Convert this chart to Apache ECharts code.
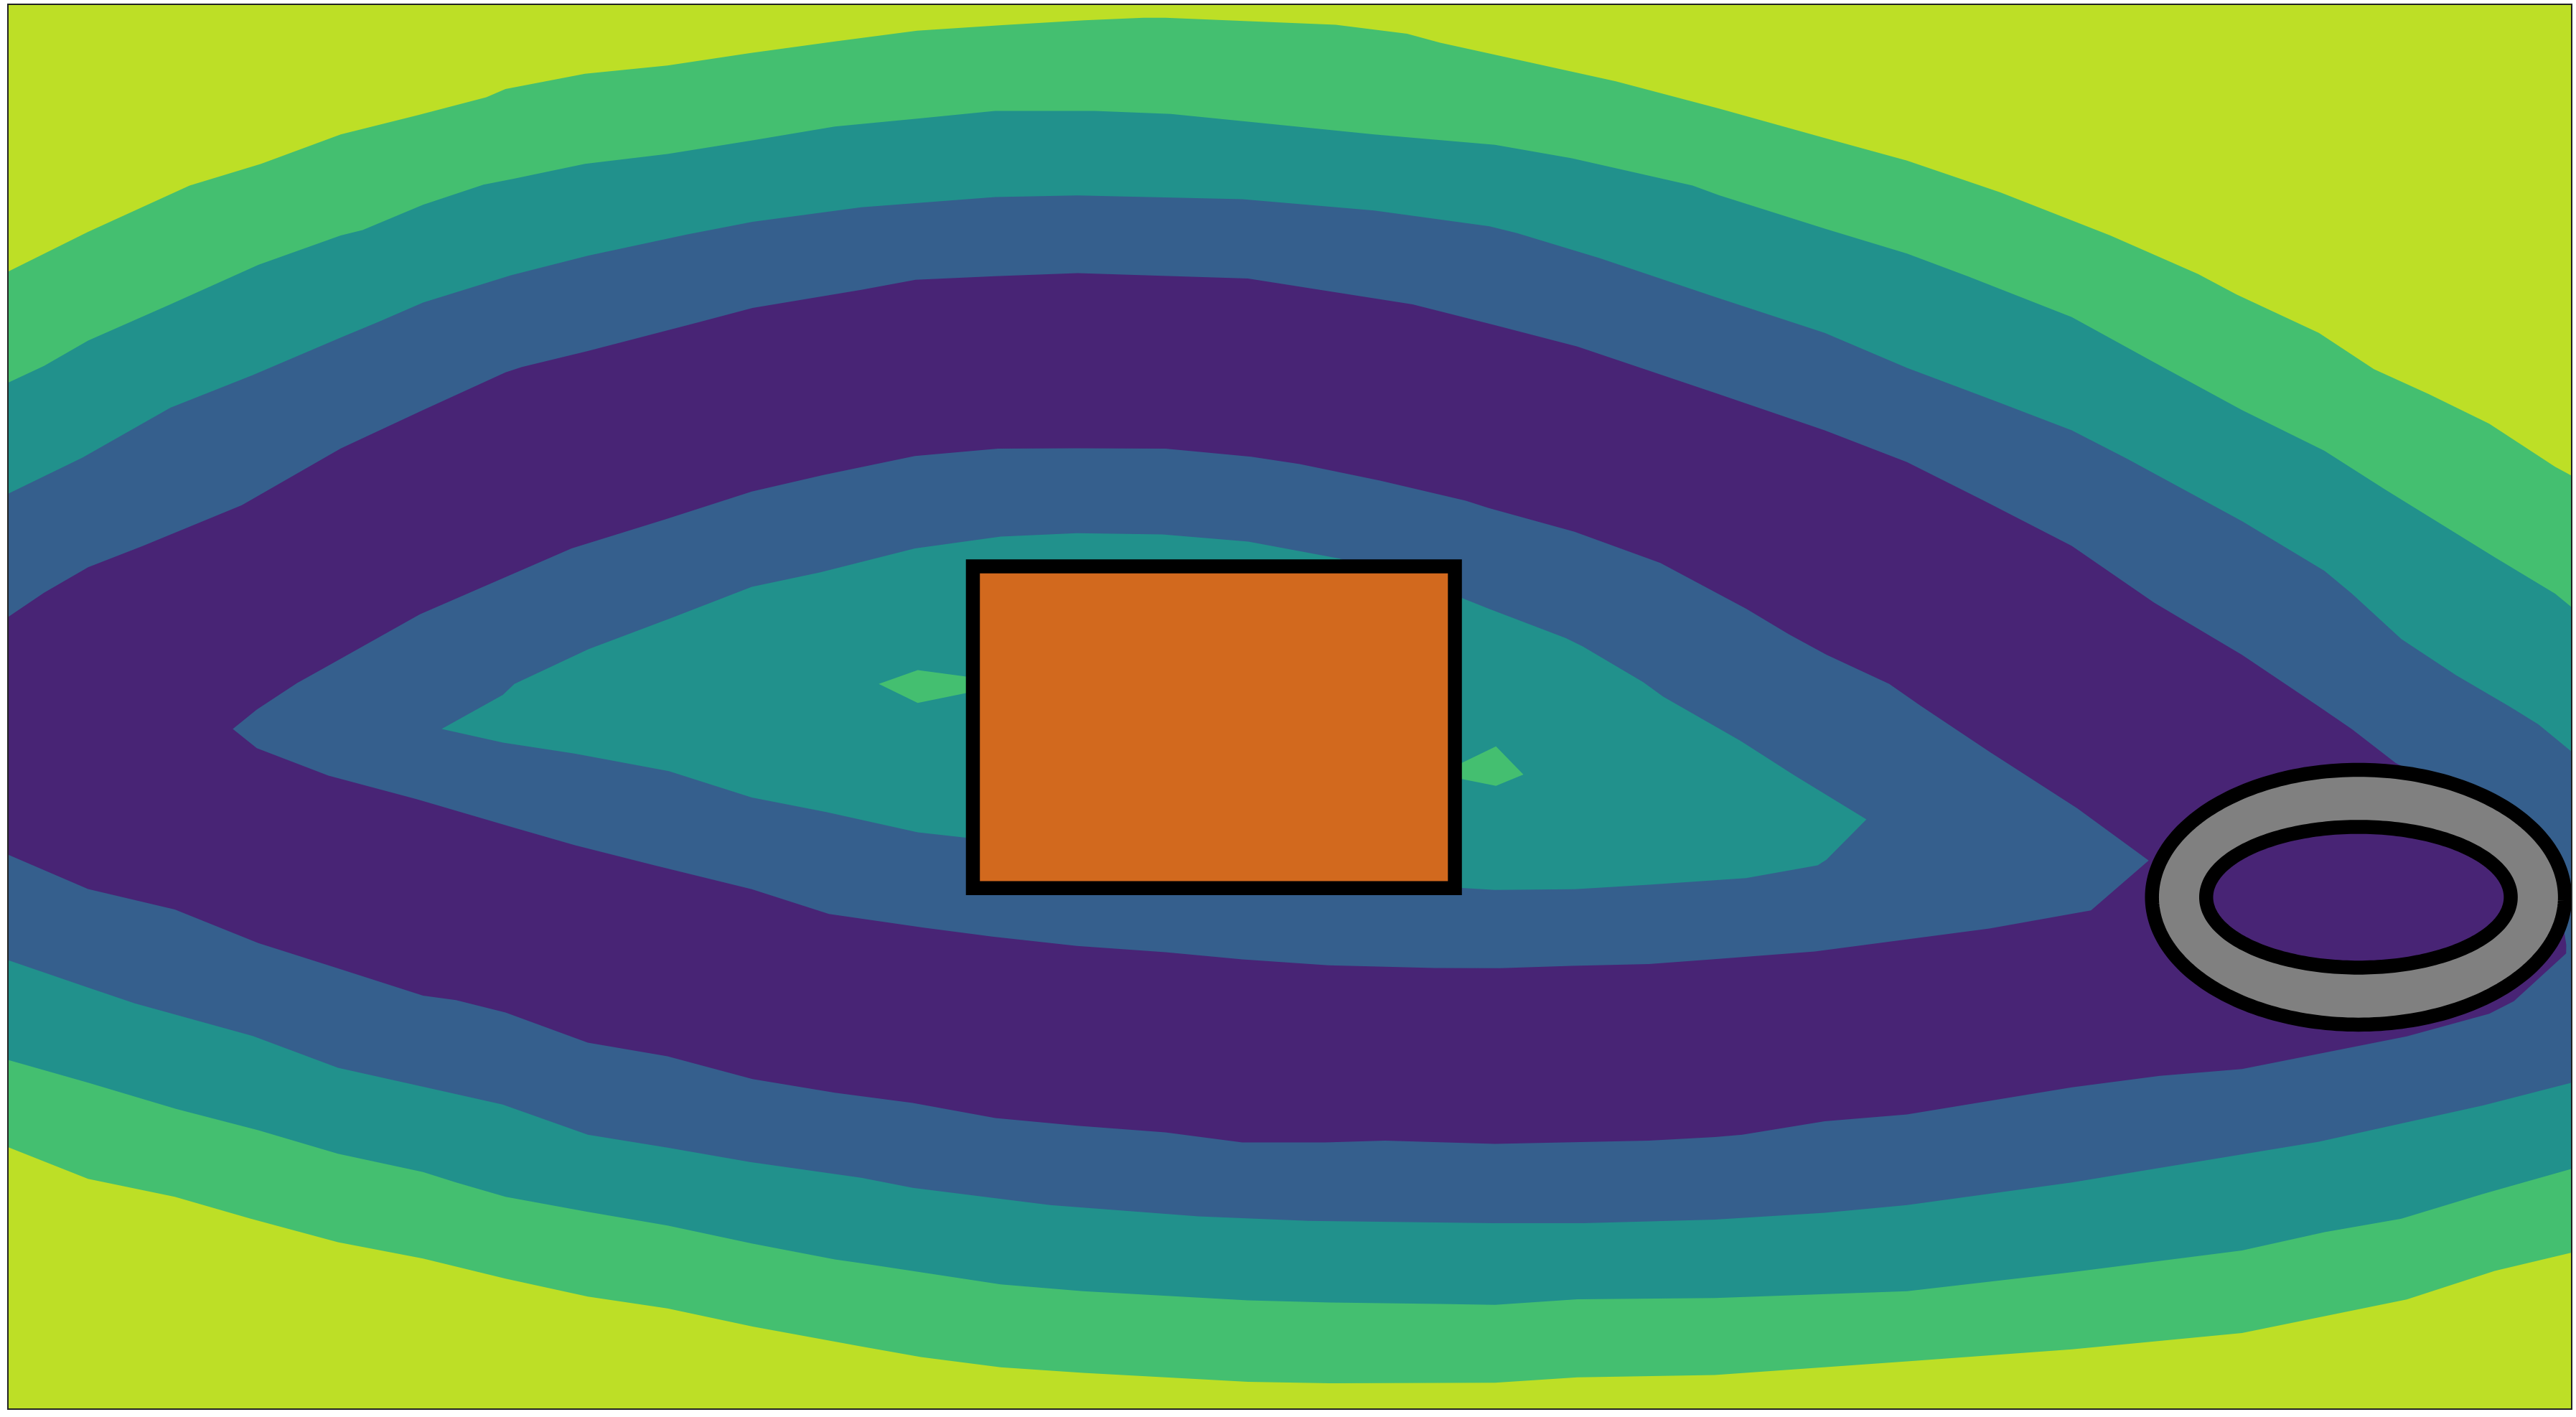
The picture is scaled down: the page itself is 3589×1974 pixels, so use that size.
<!DOCTYPE html>
<html>
<head>
<meta charset="utf-8">
<script src="https://cdn.jsdelivr.net/npm/echarts@6/dist/echarts.min.js"></script>
<style>
html,body{margin:0;padding:0;background:#ffffff;}
#chart{width:3589px;height:1974px;}
</style>
</head>
<body>
<div id="chart"></div>
<script>
// ---- axis extents (data units) ----
const xExtent = [4.7, 1565.3];
const yExtent = [2.8, 857.4];

// ---- band colours (viridis levels) ----
const colorYellow = '#bddf26';
const colorGreen  = '#44bf70';
const colorTeal   = '#21918c';
const colorBlue   = '#355f8d';
const colorPurple = '#482475';

// ---- contour boundaries (x, y) ----
const yellowGreenTop = [[4.7,165.5],[53.5,141.2],[115.3,113.1],[158.8,99.8],[207.3,81.9],[254.1,70.3],[295.9,59.3],[307.6,54.3],[356,45],[406.2,40],[456.3,32.5],[508.1,25.4],[558.2,18.8],[610,15.5],[660,12.5],[695.9,11],[709.3,11],[812.9,15.2],[856.4,20.7],[876.5,26.2],[923.3,36.4],[983.4,49.6],[1046.3,66.2],[1110.6,84.1],[1160.7,97.9],[1217.5,117.2],[1284.4,143.4],[1337.9,166.9],[1361.3,179.3],[1411.4,202.7],[1444.9,224.8],[1478.3,239.9],[1515.1,257.9],[1555.2,284.1],[1565.3,289.6]];
const yellowGreenBottom = [[4.7,698],[53.5,717.3],[106.3,728.3],[152.1,741.5],[205.6,755.9],[257.4,765.8],[307.6,778],[357.7,789],[406.2,796.2],[458,807.2],[524.2,819.3],[560.5,825.7],[609,832],[659.2,835.3],[759.5,840.8],[809.6,841.7],[909.9,841.4],[960,838.1],[1043.7,836.7],[1160.7,828.4],[1261,821],[1364.6,811.1],[1464.9,790.7],[1518.4,773.3],[1565.3,762.2]];

const greenTealTop = [[4.7,233],[26.7,222.8],[53.5,207.4],[103.6,185.3],[157.1,161.3],[207.3,143.4],[220.6,140.1],[257.4,124.7],[294.2,112.5],[312.6,108.9],[356,99.8],[406.2,93.8],[458,85.5],[508.1,77.2],[557.2,72.5],[605.7,67.6],[665.9,67.6],[712.6,69.5],[762.8,74.5],[836.3,81.9],[909.9,88.3],[956.7,96.5],[1030.2,113.1],[1046.3,119],[1110.6,139.3],[1160.7,154.4],[1197.5,168.2],[1261,193.1],[1311.1,220.6],[1364.6,249.6],[1414.8,274.4],[1451.6,297.9],[1518.4,339.2],[1555.2,361.3],[1565.3,369.6]];
const greenTealBottom = [[4.7,645],[53.5,658.8],[107,674.8],[157.1,687.8],[205.6,702.1],[257.4,713.2],[277.5,719.5],[307.6,728.3],[357.7,737.4],[406.2,745.7],[458,756.7],[508.1,766.4],[524.2,768.6],[609,781.5],[659.2,785.7],[759.5,791.2],[809.6,792.6],[876.5,793.4],[909.9,794],[960,790.6],[1043.7,789.8],[1160.7,785.7],[1261,774.1],[1364.6,760.9],[1414.8,749.8],[1461.6,741.6],[1511.7,726.4],[1565.3,711.2]];

const tealBlueTop = [[4.7,300.6],[50.1,278.6],[103.6,248.2],[153.8,228.4],[207.3,205.5],[230.7,195.8],[257.4,184.2],[310.9,167.7],[357.7,155.8],[417.9,142.9],[458,135.1],[524.2,126.3],[605.7,120],[655.8,119.1],[756.1,121.4],[836.3,128.2],[906.5,137.9],[923.3,142],[973.4,157.2],[1043.6,180.7],[1110.6,202.7],[1160.7,224],[1214.2,244.1],[1261,262],[1294.4,279.1],[1364.6,317.2],[1414.8,347.5],[1431.5,361.3],[1461.6,388.9],[1495,411],[1528.4,430.5],[1545.1,440.9],[1565.3,457.5]];
const tealBlueBottom = [[4.7,584.3],[53.5,600.9],[81.9,610.6],[153.8,630.4],[205.6,649.7],[270.8,664.3],[305.9,672.1],[357.7,690.5],[406.2,698.3],[456.3,707.1],[524.2,716.7],[555.5,722.8],[639.1,733.3],[729.4,740.2],[796.2,742.9],[909.9,744.3],[963.4,744.3],[1043.7,742.1],[1110.6,738],[1160.7,733.3],[1261,719.5],[1314.5,710.7],[1411.4,694.7],[1511.7,672.6],[1565.3,658.8]];

const bluePurpleTop = [[4.7,375.6],[26.7,360.8],[53.5,345.3],[86.9,332.3],[147.1,307.5],[207.3,273],[257.4,249.6],[307.6,226.7],[317.6,223.4],[357.7,213.7],[424.6,196.4],[458,187.5],[524.2,176.5],[557.2,170.4],[605.7,168.2],[655.8,166.3],[759.5,169.6],[859.7,185.3],[909.9,198],[960,211],[1046.3,240],[1110.6,262],[1160.7,281.3],[1207.5,304.8],[1261,332.3],[1311.1,366.8],[1364.6,398.5],[1411.4,430],[1431.5,443.7],[1458.2,464.4],[1520,495],[1555,530],[1562,575]];
const bluePurpleBottom = [[4.7,520.1],[53.5,541],[106.3,553.5],[157.1,573.9],[205.6,589.3],[257.4,605.9],[277.5,608.6],[307.6,616.1],[357.7,634.5],[406.2,642.8],[458,656.6],[508.1,664.9],[555.5,671.2],[605.7,680.3],[655.8,685],[709.3,689.1],[756.1,695.2],[806.3,695.2],[843,694.1],[909.9,696],[1003.5,694.1],[1043.7,691.9],[1060.4,690.5],[1110.6,682.3],[1160.7,678.1],[1261,661.6],[1314.5,654.7],[1364.6,650.5],[1464.9,630.7],[1515.1,616.9],[1530.1,609.2],[1561.9,580.2]];

const innerBlueTop = [[141.6,443.6],[156.2,431.8],[180.6,415.8],[199.8,405.1],[255.5,373.9],[347.8,333.8],[405.2,316],[457.5,299.2],[501,289.2],[556.8,277.6],[607.3,273.1],[655.3,272.9],[709.3,273.1],[761.5,278],[791.1,282.5],[839.9,292.5],[892.1,304.8],[906.1,309.2],[958.3,323.7],[1010.6,342.7],[1041.9,359.4],[1062.8,370.5],[1088.9,386.1],[1111.6,398.4],[1149.9,416.2],[1169,429.6],[1210.9,457.5],[1264.3,491.9],[1307.8,523.7]];
const innerBlueBottom = [[141.6,443.6],[156.2,455.3],[199.8,472],[253.8,486.4],[311.2,503.2],[349.5,514.3],[398.3,526.6],[457.5,541.1],[504.5,556.2],[562,564.5],[603.8,570],[655.3,575.6],[709.3,579.5],[756.1,583.8],[808.5,587.4],[873.1,589.1],[913,589.2],[956.7,587.7],[1003.6,586.7],[1046.3,583.5],[1104.6,579],[1210.9,565],[1272.7,554],[1307.8,523.7]];

const innerTealTop = [[268.7,443.6],[306,422.9],[313,416.2],[358.2,395.1],[408.7,376.1],[457.5,357.2],[499.3,348.3],[556.8,333.8],[609,326.6],[655.3,324.5],[707.5,325.3],[759.8,329.7],[815.5,340],[850,352],[889.7,363.9],[906.1,370.5],[953.1,388.4],[963.5,393.5],[1000.1,415.1],[1012.3,424],[1059.3,450.8],[1092.4,472],[1136,498.7]];
const innerTealBottom = [[268.7,443.6],[306,451.9],[349.5,458.6],[407,469.3],[457.5,485.3],[502.8,494.2],[558.5,506.5],[588,509.8],[740,528],[889.7,540.4],[909.9,541.6],[958.3,541.1],[1003.6,538.4],[1062.8,534.4],[1106.3,526.6],[1111.6,523.2],[1136,498.7]];

const greenIsland1 = [[534.8,416.2],[558.5,407.8],[588,411.8],[600,417],[588,421.8],[558.5,427.8]];
const greenIsland2 = [[880,468],[889.7,464.3],[910.5,454.2],[927.2,471.4],[910.5,478.2],[889.7,474.1]];

// ---- overlay patches ----
// rectangle: [x0, y0, x1, y1]
const rectBox = [[592.1, 344.7, 885.5, 540.5]];
// ring: [cx, cy, outerRx, outerRy, innerRx, innerRy]
const ringShape = [[1435.5, 546, 125.7, 77.5, 92.7, 42.8]];

function band(top, bottom) {
  return top.concat(bottom.slice().reverse());
}

function polygonSeries(name, pts, color, z) {
  return {
    type: 'custom', name: name, coordinateSystem: 'cartesian2d',
    data: pts, z: z, silent: true, animation: false,
    renderItem: function (params, api) {
      if (params.dataIndex !== 0) return null;
      const points = pts.map(function (p) { return api.coord(p); });
      return { type: 'polygon', shape: { points: points }, style: { fill: color } };
    }
  };
}

const series = [
  polygonSeries('green', band(yellowGreenTop, yellowGreenBottom), colorGreen, 1),
  polygonSeries('teal', band(greenTealTop, greenTealBottom), colorTeal, 2),
  polygonSeries('blue', band(tealBlueTop, tealBlueBottom), colorBlue, 3),
  polygonSeries('purple', band(bluePurpleTop, bluePurpleBottom), colorPurple, 4),
  polygonSeries('innerBlue', band(innerBlueTop, innerBlueBottom), colorBlue, 5),
  polygonSeries('innerTeal', band(innerTealTop, innerTealBottom), colorTeal, 6),
  polygonSeries('island1', greenIsland1, colorGreen, 7),
  polygonSeries('island2', greenIsland2, colorGreen, 7),
  {
    type: 'custom', name: 'rect', coordinateSystem: 'cartesian2d', data: rectBox, z: 8,
    silent: true, animation: false,
    renderItem: function (params, api) {
      const p0 = api.coord([api.value(0), api.value(1)]);
      const p1 = api.coord([api.value(2), api.value(3)]);
      return {
        type: 'rect',
        shape: { x: Math.min(p0[0], p1[0]), y: Math.min(p0[1], p1[1]),
                 width: Math.abs(p1[0] - p0[0]), height: Math.abs(p1[1] - p0[1]) },
        style: { fill: '#d2691e', stroke: '#000000', lineWidth: 19.5, lineJoin: 'miter' }
      };
    }
  },
  {
    type: 'custom', name: 'ring', coordinateSystem: 'cartesian2d', data: ringShape, z: 9,
    silent: true, animation: false,
    renderItem: function (params, api) {
      const c = api.coord([api.value(0), api.value(1)]);
      const so = api.size([api.value(2), api.value(3)]);
      const si = api.size([api.value(4), api.value(5)]);
      const n = 240;
      let d = '';
      for (let i = 0; i <= n; i++) {
        const t = 2 * Math.PI * i / n;
        d += (i === 0 ? 'M' : 'L') + (c[0] + so[0] * Math.cos(t)).toFixed(2) + ' ' + (c[1] + so[1] * Math.sin(t)).toFixed(2) + ' ';
      }
      d += 'Z ';
      for (let i = 0; i <= n; i++) {
        const t = -2 * Math.PI * i / n;
        d += (i === 0 ? 'M' : 'L') + (c[0] + si[0] * Math.cos(t)).toFixed(2) + ' ' + (c[1] + si[1] * Math.sin(t)).toFixed(2) + ' ';
      }
      d += 'Z';
      return { type: 'path', shape: { pathData: d }, style: { fill: '#808080', stroke: '#000000', lineWidth: 19.5 } };
    }
  },
  {
    type: 'custom', name: 'frame', coordinateSystem: 'cartesian2d', data: [[xExtent[0], yExtent[0], xExtent[1], yExtent[1]]], z: 10,
    silent: true, animation: false,
    renderItem: function (params, api) {
      const p0 = api.coord([api.value(0), api.value(1)]);
      const p1 = api.coord([api.value(2), api.value(3)]);
      return {
        type: 'rect',
        shape: { x: Math.min(p0[0], p1[0]), y: Math.min(p0[1], p1[1]),
                 width: Math.abs(p1[0] - p0[0]), height: Math.abs(p1[1] - p0[1]) },
        style: { fill: null, stroke: '#222222', lineWidth: 2 }
      };
    }
  }
];

const chart = echarts.init(document.getElementById('chart'), null, { renderer: 'canvas' });
chart.setOption({
  animation: false,
  backgroundColor: '#ffffff',
  grid: { left: 11, right: 6, top: 6, bottom: 11, show: true, backgroundColor: colorYellow, borderWidth: 0 },
  xAxis: { type: 'value', min: xExtent[0], max: xExtent[1], show: false },
  yAxis: { type: 'value', min: yExtent[0], max: yExtent[1], inverse: true, show: false },
  series: series
});
</script>
</body>
</html>
